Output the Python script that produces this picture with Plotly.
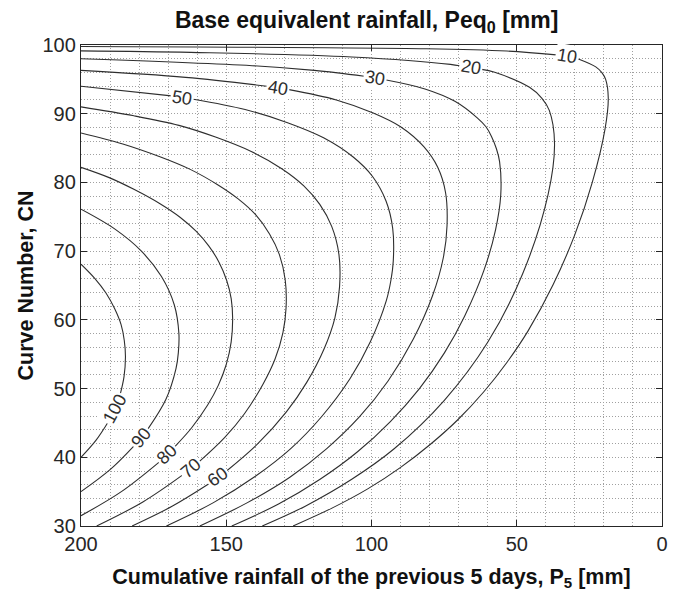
import plotly.graph_objects as go

# Contour levels of the base equivalent rainfall Peq0 [mm]
LEVELS = [10, 20, 30, 40, 50, 60, 70, 80, 90, 100]

P10 = [200.0, 81.1, 53.4, 36.4, None, 28.8, 22.8, 20.7, 19.4, 18.5, 19.6, 24.0, 30.0, 37.5, 46.1, 53.4, 61.4, 70.2, 79.7, 90.1, 101.3, 113.6, 127.0]
C10 = [99.79, 99.46, 99.12, 98.57, None, 97.97, 96.82, 95.98, 95.0, 92.3, 87.8, 80.0, 72.4, 65.1, 58.4, 53.8, 49.5, 45.5, 41.9, 38.5, 35.4, 32.6, 30.0]
P20 = [200.0, 162.2, 106.8, 72.8, 69.7, None, 62.1, 57.6, 45.6, 41.4, 38.8, 37.0, 39.2, 48.0, 60.0, 75.0, 92.2, 106.8, 122.8, 137.6]
C20 = [99.15, 98.93, 98.26, 97.18, 96.97, None, 96.45, 96.02, 93.84, 92.27, 90.48, 85.7, 78.25, 66.67, 56.74, 48.26, 41.24, 36.8, 32.89, 30.0]
P30 = [200.0, 141.1, 119.7, 102.5, None, 94.9, 81.6, 71.3, 63.6, 60.6, 58.7, 57.0, 55.9, 55.5, 57.3, 61.3, 68.0, 74.9, 83.5, 93.5, 104.8, 117.7, 132.0, 148.1]
C30 = [98.00, 96.99, 96.30, 95.46, None, 94.9, 93.6, 91.8, 89.4, 88.1, 86.7, 84.9, 83.0, 78.2, 73.1, 67.2, 60.5, 55.2, 50.0, 45.2, 40.8, 36.8, 33.2, 30.0]
P40 = [200.0, 164.0, 136.0, None, 128.4, 112.1, 99.4, 90.0, 82.0, 77.2, 74.5, 74.0, 75.3, 79.0, 85.6, 94.3, 104.1, 115.3, 128.1, 142.7, 159.1]
C40 = [96.30, 95.29, 94.0, None, 93.5, 92.0, 90.1, 88.1, 85.2, 82.2, 78.5, 73.7, 69.0, 63.5, 57.2, 51.1, 45.9, 41.3, 37.1, 33.4, 30.0]
P50 = [200.0, 168.9, None, 161.3, 143.5, 128.9, 116.5, 106.3, 99.7, 95.0, 92.7, 92.5, 93.3, 94.9, 100.4, 107.3, 117.2, 127.7, 140.1, 154.4, 170.6]
C50 = [94.0, 92.6, None, 92.1, 90.6, 88.7, 86.5, 83.7, 80.9, 77.3, 73.3, 68.6, 65.8, 62.8, 56.8, 51.5, 45.9, 41.3, 37.2, 33.4, 30.0]
P60 = [200.0, 181.8, 166.3, 153.7, 141.4, 130.9, 123.3, 117.8, 113.7, 111.2, 111.0, 112.6, 116.3, 122.3, 129.3, 139.3, 149.9, None, 156.1, 168.5, 182.4]
C60 = [91.0, 89.7, 88.3, 86.6, 84.5, 82.0, 79.5, 76.8, 73.6, 69.5, 64.8, 60.3, 55.8, 50.9, 46.6, 41.9, 38.0, None, 36.1, 32.9, 30.0]
P70 = [200.0, 185.6, 172.6, 162.4, 153.1, 145.9, 139.9, 135.1, 131.7, 129.7, 129.4, 130.5, 133.2, 137.4, 143.8, 150.5, 159.2, None, 165.1, 178.7, 194.6]
C70 = [87.2, 85.6, 83.7, 81.9, 79.7, 77.6, 75.3, 72.5, 69.5, 65.8, 61.8, 58.1, 54.3, 50.6, 46.3, 42.9, 39.4, None, 37.4, 33.5, 30.0]
P80 = [200.0, 190.3, 181.8, 172.8, 165.8, 160.4, 156.1, 152.5, 149.9, 148.3, 147.8, 148.3, 150.0, 152.7, 156.4, 161.9, 167.6, None, 173.1, 186.1, 200.0]
C80 = [82.2, 80.7, 79.0, 76.9, 74.9, 72.9, 70.8, 68.4, 65.8, 63.1, 60.2, 56.8, 53.5, 50.5, 47.6, 44.3, 41.6, None, 39.3, 35.0, 31.5]
P90 = [200.0, 188.3, 179.2, 172.3, 167.9, 166.3, 166.5, 167.3, 170.8, 177.0, None, 181.9, 190.0, 200.0]
C90 = [76.1, 73.2, 70.0, 66.3, 62.2, 58.0, 55.2, 52.9, 48.4, 44.1, None, 41.6, 38.2, 35.0]
P100 = [200.0, 195.2, 191.4, 188.4, 186.2, 185.1, 184.7, 185.2, 186.6, None, 190.7, 194.8, 200.0]
C100 = [68.1, 66.0, 63.9, 61.6, 59.3, 57.0, 54.6, 51.7, 49.0, None, 45.1, 42.5, 40.0]

# Contour label positions (P5, CN) and text rotation
LABEL_P5 = [32.6, 65.9, 98.7, 132.2, 165.1, 153.0, 162.1, 170.3, 179.4, 188.4]
LABEL_CN = [98.33, 96.77, 95.22, 93.77, 92.32, 37.07, 38.37, 40.41, 42.84, 47.02]
LABEL_ANGLE = [10, 10, 9, 9, 9, -36, -40, -44, -51, -62]

X_TICKS = [200, 150, 100, 50, 0]
Y_TICKS = [30, 40, 50, 60, 70, 80, 90, 100]

LINES_P = [P10, P20, P30, P40, P50, P60, P70, P80, P90, P100]
LINES_C = [C10, C20, C30, C40, C50, C60, C70, C80, C90, C100]

FONT = "Liberation Sans, Arial, Helvetica, sans-serif"
INK = "#262626"
GRID = "#a0a0a0"

fig = go.Figure()
for lev, xs, ys in zip(LEVELS, LINES_P, LINES_C):
    fig.add_trace(go.Scatter(x=xs, y=ys, mode="lines", name=str(lev), showlegend=False,
                             line=dict(color="#2e2e2e", width=1.1, shape="spline", smoothing=1.0),
                             hoverinfo="skip"))

for lev, lx, ly, la in zip(LEVELS, LABEL_P5, LABEL_CN, LABEL_ANGLE):
    fig.add_annotation(x=lx, y=ly, text=str(lev), showarrow=False, textangle=la,
                       bgcolor="white", borderpad=1,
                       font=dict(family=FONT, size=18, color="#2e2e2e"))

fig.update_layout(
    width=679, height=598,
    margin=dict(l=81, r=17, t=45, b=72),
    plot_bgcolor="white", paper_bgcolor="white",
    font=dict(family=FONT, size=20, color=INK),
    title=dict(text="<b>Base equivalent rainfall, Peq<sub>0</sub> [mm]</b>",
               x=0.54, xanchor="center", y=0.967, yanchor="middle",
               font=dict(family=FONT, size=23, color="#111111")),
)
fig.update_xaxes(range=[200, 0], tickvals=X_TICKS, ticktext=[str(v) for v in X_TICKS],
                 ticks="inside", ticklen=6, tickcolor=INK, mirror="ticks",
                 showline=True, linecolor=INK, linewidth=1.3,
                 showgrid=True, gridcolor=GRID, griddash="1px,2px", gridwidth=1, zeroline=False,
                 minor=dict(dtick=10, showgrid=True, gridcolor=GRID, griddash="1px,2px", gridwidth=1, ticks=""),
                 tickfont=dict(family=FONT, size=20, color=INK),
                 title=dict(text="<b>Cumulative rainfall of the previous 5 days, P<sub>5</sub> [mm]</b>",
                            font=dict(family=FONT, size=21.5, color="#111111"), standoff=14))
fig.update_yaxes(range=[30, 100], tickvals=Y_TICKS, ticktext=[str(v) for v in Y_TICKS],
                 ticks="inside", ticklen=6, tickcolor=INK, mirror="ticks",
                 showline=True, linecolor=INK, linewidth=1.3,
                 showgrid=True, gridcolor=GRID, griddash="1px,2px", gridwidth=1, zeroline=False,
                 minor=dict(dtick=2, showgrid=True, gridcolor=GRID, griddash="1px,2px", gridwidth=1, ticks=""),
                 tickfont=dict(family=FONT, size=20, color=INK),
                 title=dict(text="<b>Curve Number, CN</b>", font=dict(family=FONT, size=21.5, color="#111111"), standoff=2))

fig.write_html("out.html")
